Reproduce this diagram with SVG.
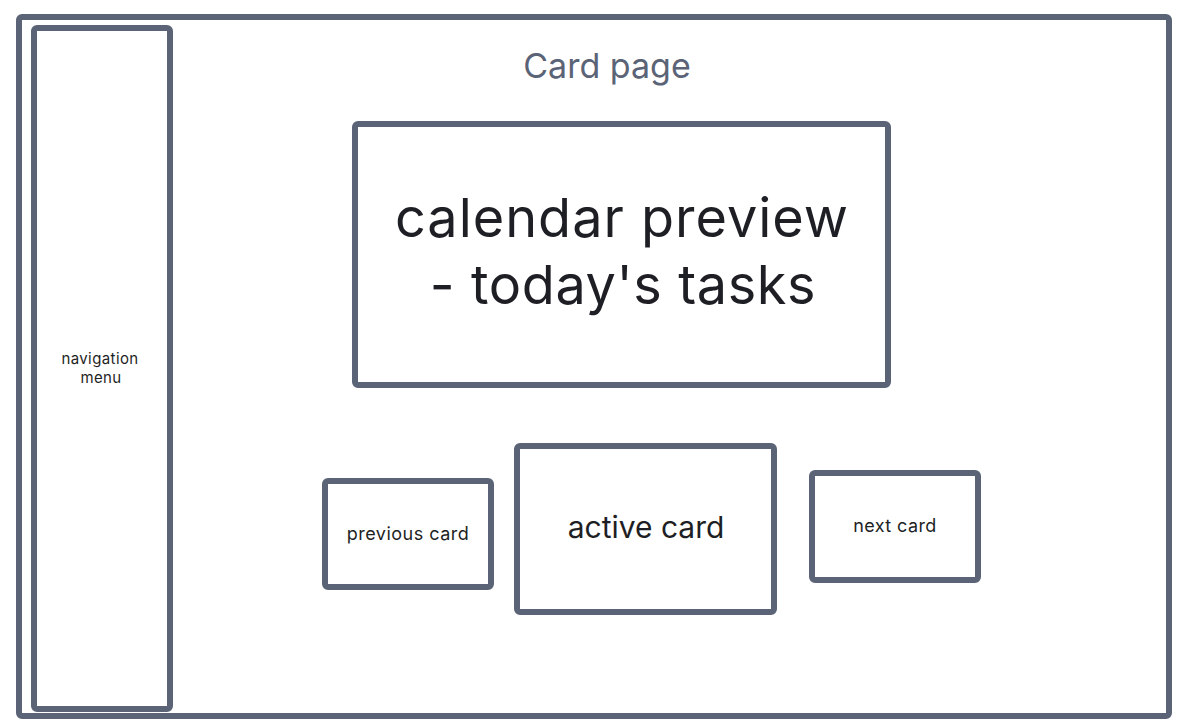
<svg xmlns="http://www.w3.org/2000/svg" width="1183" height="723" viewBox="0 0 1183 723">
  <style>
    .box { fill: #ffffff; stroke: #5b6477; stroke-width: 6; }
    .t { font-family: Inter, "Liberation Sans", sans-serif; fill: #1e1f24; text-anchor: middle; }
  </style>
  <rect width="1183" height="723" fill="#ffffff"/>
  <g id="page">
    <rect class="box" x="19" y="17" width="1150" height="699" rx="3"/>
    <text class="t" x="607" y="78" font-size="34" style="fill:#5b6477">Card page</text>
  </g>
  <g id="nav">
    <rect class="box" x="34" y="28" width="136" height="681" rx="3"/>
    <text class="t" x="100" y="364" font-size="15" letter-spacing="0.4">navigation</text>
    <text class="t" x="101" y="383" font-size="15" letter-spacing="0.4">menu</text>
  </g>
  <g id="calendar">
    <rect class="box" x="355" y="124" width="533" height="261" rx="3"/>
    <text class="t" x="622" y="237" font-size="54" letter-spacing="1">calendar preview</text>
    <text class="t" x="623" y="304" font-size="54" letter-spacing="0.6">- today's tasks</text>
  </g>
  <g id="previous">
    <rect class="box" x="325" y="481" width="166" height="106" rx="3"/>
    <text class="t" x="408" y="540" font-size="18" letter-spacing="0.5">previous card</text>
  </g>
  <g id="active">
    <rect class="box" x="517" y="446" width="257" height="166" rx="3"/>
    <text class="t" x="646" y="538" font-size="30">active card</text>
  </g>
  <g id="next">
    <rect class="box" x="812" y="473" width="166" height="107" rx="3"/>
    <text class="t" x="895" y="532" font-size="18" letter-spacing="0.4">next card</text>
  </g>
  <g id="connectors"/>
</svg>
